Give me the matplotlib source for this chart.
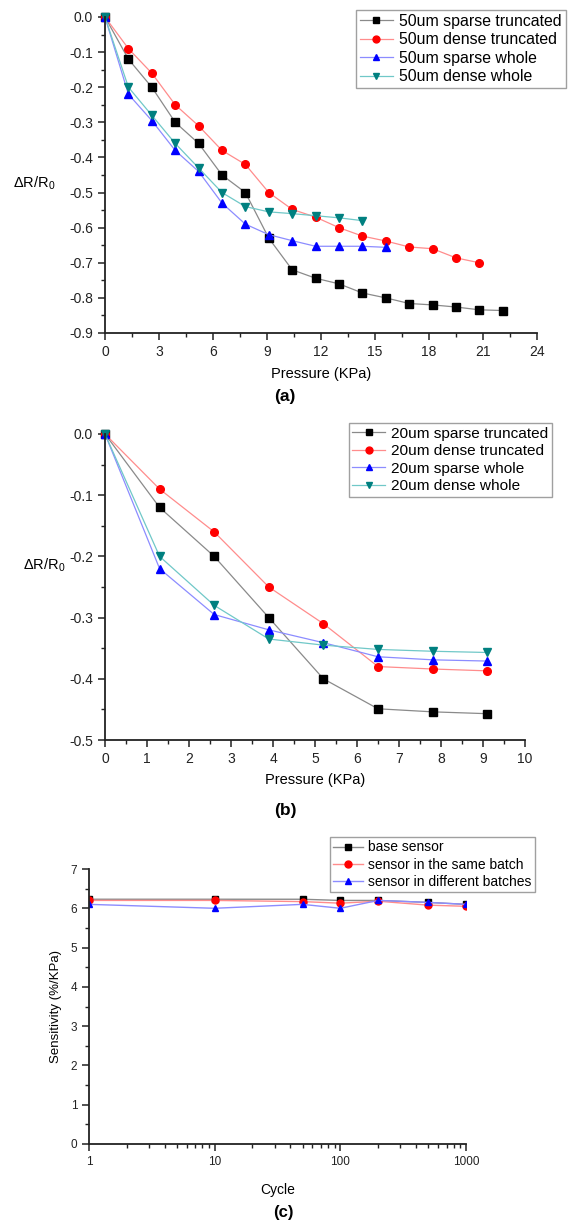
import numpy as np
import matplotlib
matplotlib.use('Agg')
import matplotlib.pyplot as plt
from matplotlib.ticker import MultipleLocator, FixedLocator, NullFormatter

plt.rcParams['font.family'] = ['Liberation Sans', 'DejaVu Sans']
plt.rcParams['mathtext.fontset'] = 'custom'
plt.rcParams['mathtext.rm'] = 'Liberation Sans'

# ---- data (a): 50um samples
p_a = [0, 1.3, 2.6, 3.9, 5.2, 6.5, 7.8, 9.1, 10.4, 11.7, 13.0, 14.3, 15.6,
       16.9, 18.2, 19.5, 20.8, 22.1]
a_sparse_trunc = [0, -0.12, -0.2, -0.3, -0.36, -0.45, -0.5, -0.63, -0.72,
                  -0.744, -0.76, -0.786, -0.80, -0.816, -0.82, -0.826,
                  -0.834, -0.836]
a_dense_trunc = [0, -0.09, -0.16, -0.25, -0.31, -0.38, -0.42, -0.5, -0.548,
                 -0.57, -0.60, -0.624, -0.638, -0.655, -0.66, -0.686, -0.70]
a_sparse_whole = [0, -0.22, -0.295, -0.38, -0.44, -0.53, -0.59, -0.62,
                  -0.637, -0.653, -0.653, -0.653, -0.656]
a_dense_whole = [0, -0.2, -0.28, -0.36, -0.43, -0.5, -0.54, -0.555, -0.56,
                 -0.566, -0.572, -0.58]
labels_a = ['50um sparse truncated', '50um dense truncated',
            '50um sparse whole', '50um dense whole']

# ---- data (b): 20um samples
p_b = [0, 1.3, 2.6, 3.9, 5.2, 6.5, 7.8, 9.1]
b_sparse_trunc = [0, -0.12, -0.2, -0.3, -0.4, -0.449, -0.454, -0.457]
b_dense_trunc = [0, -0.09, -0.16, -0.25, -0.31, -0.38, -0.384, -0.387]
b_sparse_whole = [0, -0.22, -0.295, -0.32, -0.341, -0.364, -0.369, -0.371]
b_dense_whole = [0, -0.2, -0.28, -0.335, -0.345, -0.352, -0.355, -0.357]
labels_b = ['20um sparse truncated', '20um dense truncated',
            '20um sparse whole', '20um dense whole']

# ---- data (c): cycling
cycles = [1, 10, 50, 100, 200, 500, 1000]
sens_base = [6.23, 6.23, 6.23, 6.2, 6.2, 6.15, 6.1]
sens_same = [6.2, 6.2, 6.17, 6.13, 6.18, 6.08, 6.05]
sens_diff = [6.1, 6.0, 6.1, 6.0, 6.2, 6.15, 6.1]
labels_c = ['base sensor', 'sensor in the same batch',
            'sensor in different batches']

W, H = 571, 1221
fig = plt.figure(figsize=(W / 100, H / 100), dpi=100)


def px_axes(x0, x1, y0, y1):
    # pixel box (top-left origin) -> axes
    return fig.add_axes([x0 / W, 1 - y1 / H, (x1 - x0) / W, (y1 - y0) / H])


def ftext(x, y, s, **kw):
    fig.text(x / W, 1 - y / H, s, ha='center', va='center', **kw)


def style(ax, size=10):
    for s in ['top', 'right']:
        ax.spines[s].set_visible(False)
    for s in ['left', 'bottom']:
        ax.spines[s].set_linewidth(1.3)
        ax.spines[s].set_color('#222222')
    ax.tick_params(which='major', direction='out', length=5, width=1.1,
                   labelsize=size, colors='#222222')
    ax.tick_params(which='minor', direction='out', length=3, width=1.0,
                   colors='#222222')


mk_colors = ['black', 'red', 'blue', '#008080']
ln_colors = ['#8a8a8a', '#ff8c8c', '#8c8cff', '#70c8c8']
markers = ['s', 'o', '^', 'v']

leg_kw = dict(frameon=True, fancybox=False, edgecolor='#888888',
              borderaxespad=0, handlelength=2.1, handletextpad=0.4,
              labelspacing=0.22, borderpad=0.25)

# ---------------- (a)
ax1 = px_axes(105, 537, 17, 333)
series_a = [a_sparse_trunc, a_dense_trunc, a_sparse_whole, a_dense_whole]
for i, ys in enumerate(series_a):
    ax1.plot(p_a[:len(ys)], ys, color=ln_colors[i], lw=0.9,
             marker=markers[i], ms=5.5, mfc=mk_colors[i], mec=mk_colors[i],
             label=labels_a[i], clip_on=False)
ax1.set_xlim(0, 24)
ax1.set_ylim(-0.9, 0)
ax1.xaxis.set_major_locator(MultipleLocator(3))
ax1.xaxis.set_minor_locator(MultipleLocator(1.5))
ax1.yaxis.set_major_locator(MultipleLocator(0.1))
ax1.yaxis.set_minor_locator(MultipleLocator(0.05))
ax1.yaxis.set_major_formatter(plt.FuncFormatter(lambda v, p: '%.1f' % v))
style(ax1)
ax1.legend(loc='upper right', bbox_to_anchor=(566 / W, 1 - 10 / H),
           bbox_transform=fig.transFigure, fontsize=11.4, markerscale=0.9,
           **leg_kw)
ftext(34, 183, r'$\Delta$R/R$_0$', fontsize=10.5)
ftext(321, 374, 'Pressure (KPa)', fontsize=10.5)
ftext(285, 397, '(a)', fontsize=12.5, fontweight='bold')

# ---------------- (b)
ax2 = px_axes(105, 525, 434, 740)
series_b = [b_sparse_trunc, b_dense_trunc, b_sparse_whole, b_dense_whole]
for i, ys in enumerate(series_b):
    ax2.plot(p_b, ys, color=ln_colors[i], lw=0.9,
             marker=markers[i], ms=5.5, mfc=mk_colors[i], mec=mk_colors[i],
             label=labels_b[i], clip_on=False)
ax2.set_xlim(0, 10)
ax2.set_ylim(-0.5, 0)
ax2.xaxis.set_major_locator(MultipleLocator(1))
ax2.xaxis.set_minor_locator(MultipleLocator(0.5))
ax2.yaxis.set_major_locator(MultipleLocator(0.1))
ax2.yaxis.set_minor_locator(MultipleLocator(0.05))
ax2.yaxis.set_major_formatter(plt.FuncFormatter(lambda v, p: '%.1f' % v))
style(ax2)
ax2.legend(loc='upper right', bbox_to_anchor=(552 / W, 1 - 423 / H),
           bbox_transform=fig.transFigure, fontsize=11.1, markerscale=0.9,
           **leg_kw)
ftext(44, 565, r'$\Delta$R/R$_0$', fontsize=10.5)
ftext(315, 780, 'Pressure (KPa)', fontsize=10.5)
ftext(285, 811, '(b)', fontsize=12.5, fontweight='bold')

# ---------------- (c)
ax3 = px_axes(89, 466, 869, 1144)
series_c = [sens_base, sens_same, sens_diff]
for i, ys in enumerate(series_c):
    ax3.plot(cycles, ys, color=ln_colors[i], lw=1.0,
             marker=markers[i], ms=5, mfc=mk_colors[i], mec=mk_colors[i],
             label=labels_c[i], clip_on=True)
ax3.set_xscale('log')
ax3.set_xlim(1, 1000)
ax3.set_ylim(0, 7)
ax3.set_xticks([1, 10, 100, 1000])
ax3.set_xticklabels(['1', '10', '100', '1000'])
ax3.xaxis.set_minor_locator(FixedLocator(
    [m * 10 ** e for e in range(3) for m in range(2, 10)]))
ax3.xaxis.set_minor_formatter(NullFormatter())
ax3.yaxis.set_major_locator(MultipleLocator(1))
ax3.yaxis.set_minor_locator(MultipleLocator(0.5))
style(ax3, size=8.5)
ax3.legend(loc='upper right', bbox_to_anchor=(535 / W, 1 - 837 / H),
           bbox_transform=fig.transFigure, fontsize=10, markerscale=1.0,
           **leg_kw)
ax3.set_ylabel('Sensitivity (%/KPa)', fontsize=9.5, labelpad=6)
ftext(278, 1190, 'Cycle', fontsize=10)
ftext(283, 1212, '(c)', fontsize=12, fontweight='bold')

fig.savefig('out.png', dpi=100)
